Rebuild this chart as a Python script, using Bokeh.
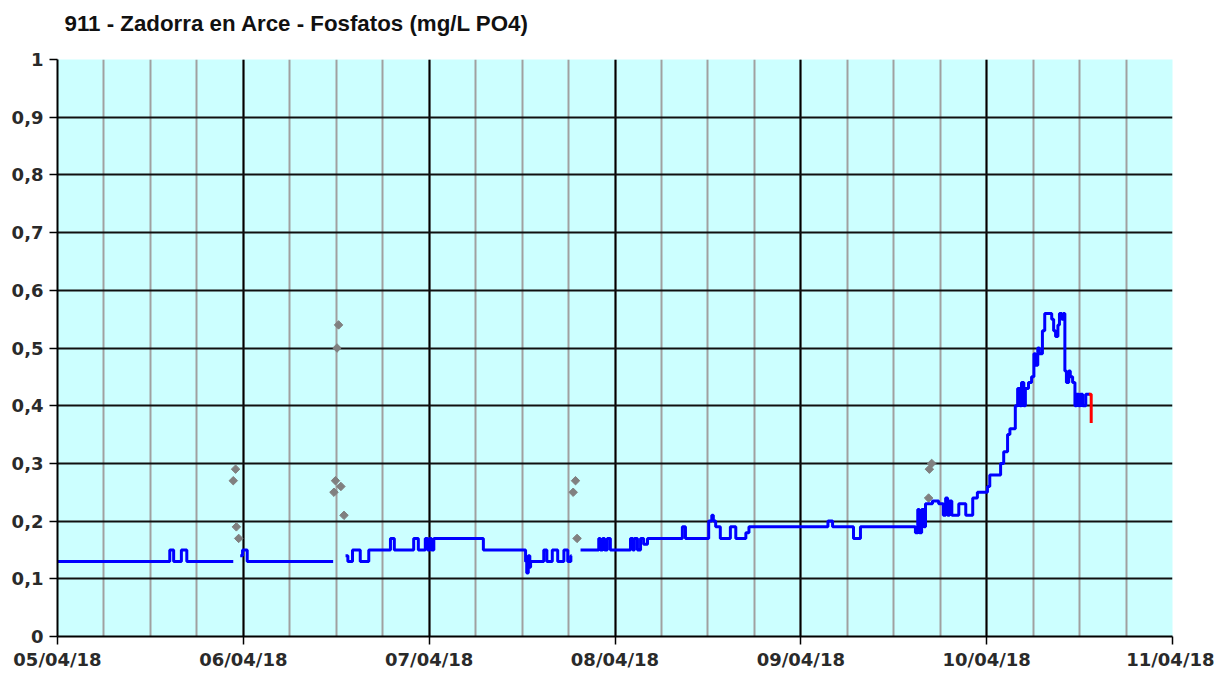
from bokeh.plotting import figure
from bokeh.embed import file_html
from bokeh.resources import INLINE
from bokeh.models import FixedTicker, CustomJSTickFormatter, Title

# ---- data (time in hours from 05/04/18 00:00) ----
title_text = "911 - Zadorra en Arce - Fosfatos (mg/L PO4)"
day_labels = ["05/04/18", "06/04/18", "07/04/18", "08/04/18", "09/04/18", "10/04/18", "11/04/18"]

seg1_t = [0, 14.5, 15.0, 16.0, 16.7, 22.7]
seg1_v = [0.13, 0.15, 0.13, 0.15, 0.13, 0.13]

seg2_t = [23.6, 23.9, 24.5, 35.6]
seg2_v = [0.14, 0.15, 0.13, 0.13]

seg3_t = [37.2, 37.5, 38.1, 39.1, 40.2, 43.0, 43.5, 46.0, 46.6, 47.5, 47.8, 48.05, 48.3, 48.6,
          55.0, 60.45, 60.6, 60.8, 61.0, 61.1, 62.8, 63.2, 63.9, 64.6, 65.4, 65.9, 66.3, 66.4]
seg3_v = [0.14, 0.13, 0.15, 0.13, 0.15, 0.17, 0.15, 0.17, 0.15, 0.17, 0.15, 0.17, 0.15, 0.17,
          0.15, 0.13, 0.11, 0.14, 0.12, 0.13, 0.15, 0.13, 0.15, 0.13, 0.15, 0.13, 0.14, 0.14]

seg4_t = [67.55, 69.9, 70.1, 70.4, 70.65, 71.0, 71.4, 74.0, 74.3, 74.5, 74.9, 75.3, 75.7, 76.2,
          80.7, 81.1, 84.1, 84.5, 84.7, 85.0, 85.6, 86.9, 87.6, 88.9, 89.3, 99.5, 100.1, 102.8,
          103.7, 110.8, 111.1, 111.3, 111.6, 111.9, 112.1, 113.0, 113.8, 114.4, 114.7, 114.95,
          115.2, 115.5, 116.4, 117.3, 118.2, 118.8, 120.1, 120.4, 121.8, 122.2, 122.7, 123.0,
          123.7, 124.0, 124.3, 124.5, 124.8, 125.0, 125.4, 125.8, 126.1, 126.3, 126.6, 126.8,
          127.2, 127.5, 128.4, 128.65, 128.9, 129.2, 129.4, 129.7, 129.9, 130.1, 130.3, 130.6,
          130.8, 131.1, 131.4, 131.6, 131.9, 132.1, 132.4, 132.8, 133.3]
seg4_v = [0.15, 0.17, 0.15, 0.17, 0.15, 0.17, 0.15, 0.17, 0.15, 0.17, 0.15, 0.17, 0.16, 0.17,
          0.19, 0.17, 0.20, 0.21, 0.20, 0.19, 0.17, 0.19, 0.17, 0.18, 0.19, 0.20, 0.19, 0.17,
          0.19, 0.18, 0.22, 0.18, 0.22, 0.19, 0.23, 0.235, 0.23, 0.21, 0.24, 0.21,
          0.235, 0.21, 0.23, 0.21, 0.24, 0.25, 0.26, 0.28, 0.30, 0.32, 0.35, 0.36,
          0.40, 0.43, 0.40, 0.44, 0.40, 0.43, 0.44, 0.45, 0.49, 0.47, 0.50, 0.49,
          0.53, 0.56, 0.55, 0.53, 0.52, 0.54, 0.56, 0.55, 0.56, 0.46, 0.44, 0.46,
          0.45, 0.44, 0.40, 0.42, 0.40, 0.42, 0.40, 0.42, 0.42]

red_t = [133.2, 133.5, 133.5]
red_v = [0.42, 0.42, 0.37]

lab_t = [22.7, 23.0, 23.1, 23.4, 35.7, 35.9, 36.1, 36.3, 36.6, 37.0, 66.6, 66.9, 67.1, 112.5, 112.6, 112.9]
lab_v = [0.27, 0.29, 0.19, 0.17, 0.25, 0.27, 0.50, 0.54, 0.26, 0.21, 0.25, 0.27, 0.17, 0.24, 0.29, 0.30]

y_ticks = [0.0, 0.1, 0.2, 0.3, 0.4, 0.5, 0.6, 0.7, 0.8, 0.9, 1.0]

# ---- figure ----
p = figure(width=1214, height=672, x_range=(0, 144), y_range=(0, 1),
           output_backend="svg", toolbar_location=None,
           min_border_left=57, min_border_right=42, min_border_top=59, min_border_bottom=30)
p.background_fill_color = "#CCFFFF"
p.border_fill_color = "white"
p.outline_line_color = None

p.title.text = title_text
p.title.text_font = "Liberation Sans"
p.title.text_font_size = "22.3px"
p.title.text_font_style = "bold"
p.title.text_color = "#111111"
p.title.align = "left"
p.title.offset = 7
p.title.standoff = 0
# blank spacer between the title and the plot frame
p.add_layout(Title(text=" ", text_font_size="2px", standoff=20), "above")

day_ticks = [24 * i for i in range(len(day_labels))]
p.xaxis.ticker = FixedTicker(ticks=day_ticks, minor_ticks=[6 * i for i in range(25)])
p.xaxis.major_label_overrides = {t: lab for t, lab in zip(day_ticks, day_labels)}
p.yaxis.ticker = FixedTicker(ticks=y_ticks)
p.yaxis.formatter = CustomJSTickFormatter(code="""
    if (Math.abs(tick) < 1e-9) return '0';
    if (Math.abs(tick - 1) < 1e-9) return '1';
    return tick.toFixed(1).replace('.', ',');
""")

for ax in (p.xaxis[0], p.yaxis[0]):
    ax.axis_line_color = "black"
    ax.axis_line_width = 2
    ax.major_tick_line_color = "black"
    ax.major_tick_line_width = 1.5
    ax.major_tick_out = 8
    ax.major_tick_in = 0
    ax.minor_tick_line_color = None
    ax.major_label_text_font = "DejaVu Sans"
    ax.major_label_text_font_size = "18px"
    ax.major_label_text_font_style = "bold"
    ax.major_label_text_color = "#2a2a2a"
p.xaxis.major_label_standoff = 4
p.yaxis.major_label_standoff = 6

p.xgrid.grid_line_color = "black"
p.xgrid.grid_line_width = 2
p.xgrid.minor_grid_line_color = "#A0A0A0"
p.xgrid.minor_grid_line_width = 2
p.ygrid.grid_line_color = "#101010"
p.ygrid.grid_line_width = 2

# ---- series ----
p.scatter(lab_t, lab_v, marker="square", angle=0.785398, size=6, color="#808080")
for ts, vs in ((seg1_t, seg1_v), (seg2_t, seg2_v), (seg3_t, seg3_v), (seg4_t, seg4_v)):
    p.step(ts, vs, mode="after", line_color="#0000FF", line_width=3)
p.line(red_t, red_v, line_color="#FF0000", line_width=3)

open("out.html", "w").write(file_html(p, INLINE))
